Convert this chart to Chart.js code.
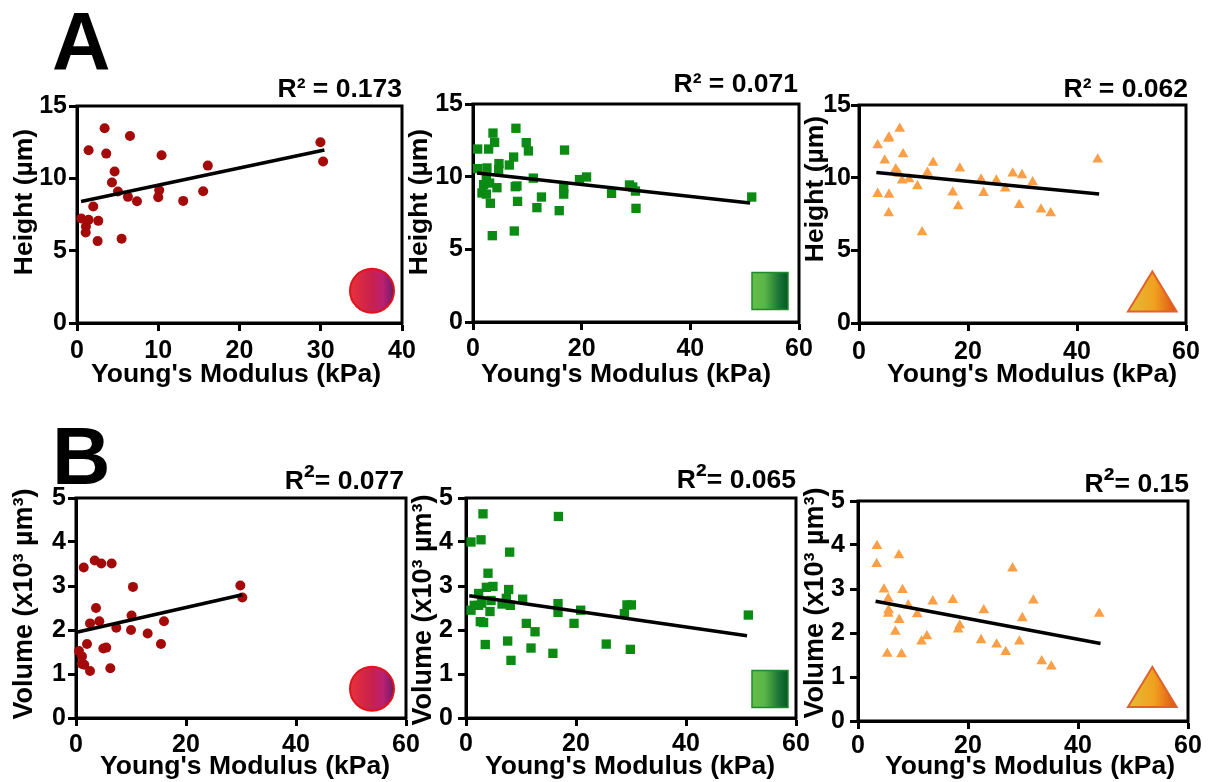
<!DOCTYPE html>
<html><head><meta charset="utf-8">
<script src="https://cdn.jsdelivr.net/npm/chart.js@4"></script>
<style>
html,body{margin:0;padding:0;background:#fff;overflow:hidden;width:1210px;height:782px}
canvas{position:absolute}
.t{position:absolute;font:bold 26.5px/1 "Liberation Sans",Arial,sans-serif;color:#000;white-space:nowrap}
.l{position:absolute;font:bold 81px/1 "Liberation Sans",Arial,sans-serif;color:#000}
.s{font-size:1.25em;line-height:0}
svg{position:absolute;left:0;top:0}
</style></head><body>
<div class="l" style="left:52px;top:1px">A</div>
<div class="l" style="left:52px;top:416px">B</div>
<svg width="1210" height="782">
<defs>
<linearGradient id="gc"><stop offset="0" stop-color="#e8313a"/><stop offset=".5" stop-color="#c8214f"/><stop offset=".75" stop-color="#bc2070"/><stop offset=".93" stop-color="#861c6e"/><stop offset="1" stop-color="#2b3a3a"/></linearGradient>
<linearGradient id="gs"><stop offset="0" stop-color="#66bd47"/><stop offset=".35" stop-color="#5ab548"/><stop offset=".75" stop-color="#1a7435"/><stop offset="1" stop-color="#07572a"/></linearGradient>
<linearGradient id="gt"><stop offset="0" stop-color="#e3bd38"/><stop offset=".55" stop-color="#f0a01f"/><stop offset="1" stop-color="#de4f14"/></linearGradient>
</defs>
<circle cx="372" cy="290.7" r="22" fill="url(#gc)" stroke="#e0141c" stroke-width="2"/>
<circle cx="372" cy="688.7" r="22" fill="url(#gc)" stroke="#e0141c" stroke-width="2"/>
<rect x="752" y="272.5" width="36" height="37" fill="url(#gs)" stroke="#1f8a2c" stroke-width="1.5"/>
<rect x="752" y="670.5" width="36" height="37" fill="url(#gs)" stroke="#1f8a2c" stroke-width="1.5"/>
<polygon points="1152.3,271.5 1128,311.5 1176.6,311.5" fill="url(#gt)" stroke="#e0622a" stroke-width="2"/>
<polygon points="1152.3,667 1128,707 1176.6,707" fill="url(#gt)" stroke="#e0622a" stroke-width="2"/>
</svg>
<script>
// Panel A: height (um) against Young's modulus (kPa)
const circleHeightX=[0.53,1.43,1.1,1.07,2.62,2.54,5.49,2.0,1.43,3.4,3.6,6.52,4.63,4.3,5.04,6.27,7.38,10.12,10.0,10.41,13.07,15.53,16.1,29.96,30.29];
const circleHeightY=[7.22,7.13,6.67,6.26,7.06,5.66,5.82,8.05,11.94,13.46,11.71,12.93,10.47,9.71,9.09,8.72,8.42,9.18,8.7,11.59,8.44,9.11,10.88,12.49,11.16];
const circleHeightFitX=[0.5,30.45], circleHeightFitY=[8.4,11.96];
const squareHeightX=[0.86,0.86,2.57,2.88,3.68,3.98,4.78,4.72,2.45,6.68,7.48,7.9,9.8,10.2,11.1,16.85,19.6,20.9,1.96,1.65,2.45,3.06,4.41,7.78,8.09,3.19,8.2,12.6,11.76,15.87,16.7,16.7,25.5,28.8,29.4,29.9,30.0,51.3,3.55,7.6];
const squareHeightY=[11.9,10.55,10.6,11.9,13.0,12.36,10.9,10.48,10.02,10.8,11.35,13.33,12.34,11.77,9.9,11.83,9.8,9.98,9.45,8.88,8.8,9.56,9.24,9.31,9.36,8.17,8.3,8.6,7.87,7.66,9.22,8.8,8.85,9.43,9.29,9.01,7.82,8.6,5.94,6.26];
const squareHeightFitX=[0.74,51], squareHeightFitY=[10.25,8.19];
const triangleHeightX=[3.43,5.5,5.4,7.48,8.09,4.72,6.74,7.3,7.9,9.19,10.72,12.56,13.6,18.5,17.2,18.2,22.86,22.4,25.2,26.84,28.2,29.9,31.86,29.4,33.4,35.17,43.8,3.43,5.5,5.45,11.58];
const triangleHeightY=[12.24,12.77,12.68,13.37,11.62,11.19,10.59,10.27,9.81,9.9,9.42,10.34,11.03,10.64,8.98,8.04,8.96,9.88,9.81,9.26,10.29,10.18,9.69,8.13,7.81,7.56,11.26,8.89,8.84,7.56,6.25];
const triangleHeightFitX=[3.19,44.06], triangleHeightFitY=[10.36,8.87];
// Panel B: volume (x10^3 um^3) against Young's modulus (kPa)
const circleVolumeX=[0.55,1.09,1.09,1.5,2.55,2.0,6.24,4.97,5.5,1.4,3.4,4.6,6.48,3.64,2.55,4.24,7.33,10.1,10.0,10.36,13.03,15.45,16.0,29.88,30.24];
const circleVolumeY=[1.52,1.4,1.23,1.21,1.07,1.68,1.13,1.58,1.6,3.42,3.58,3.51,3.51,2.5,2.15,2.2,2.05,2.33,2.0,2.98,1.92,1.68,2.2,3.01,2.74];
const circleVolumeFitX=[0.12,30.24], circleVolumeFitY=[1.95,2.8];
const squareVolumeX=[3.09,16.8,0.91,2.73,7.94,4.0,3.7,4.9,7.76,2.3,10.3,7.33,4.55,16.73,16.73,6.55,8.06,29.27,30.06,28.8,20.85,0.91,1.5,2.3,2.85,4.36,2.6,3.2,10.97,19.64,12.55,3.5,7.58,11.82,15.8,25.5,29.88,8.18,51.33];
const squareVolumeY=[4.64,4.58,4.0,4.05,3.77,3.29,2.97,2.99,2.92,2.83,2.7,2.72,2.67,2.6,2.4,2.59,2.56,2.57,2.57,2.37,2.45,2.45,2.56,2.56,2.61,2.42,2.19,2.17,2.15,2.15,1.96,1.67,1.75,1.59,1.47,1.68,1.56,1.31,2.34];
const squareVolumeFitX=[0.6,51.1], squareVolumeFitY=[2.78,1.87];
const triangleVolumeX=[3.45,3.39,7.44,28.1,4.72,8.1,5.5,5.57,5.5,9.13,10.77,13.6,17.24,22.87,31.88,29.88,43.86,7.5,6.78,18.5,18.2,12.52,11.55,22.38,25.2,26.86,29.34,5.32,7.92,33.4,35.15];
const triangleVolumeY=[3.98,3.57,3.77,3.47,2.99,2.98,2.78,2.52,2.44,2.63,2.43,2.72,2.75,2.52,2.74,2.34,2.44,2.3,2.03,2.17,2.08,1.93,1.81,1.84,1.74,1.57,1.81,1.53,1.52,1.36,1.24];
const triangleVolumeFitX=[3.2,44.1], triangleVolumeFitY=[2.72,1.76];
// Text and ticks
const heightTitle="Height (µm)", volumeTitle="Volume (x10³ µm³)", modulusTitle="Young's Modulus (kPa)";
const r2Labels=['R² = 0.173','R² = 0.071','R² = 0.062','R<span class="s">²</span>= 0.077','R<span class="s">²</span>= 0.065','R<span class="s">²</span>= 0.15'];
const markerColors={circle:'#a50a0a',rect:'#0b8a14',triangle:'#fb9f47'};

const FF='"Liberation Sans",Arial,sans-serif';
const zip=(x,y)=>x.map((v,i)=>({x:v,y:y[i]}));
const panels=[
 {box:[77,402,106,323],xMax:40,xStep:10,yMax:15,yStep:5,style:'circle',r:5,xPad:5,yPad:2,xs:circleHeightX,ys:circleHeightY,fx:circleHeightFitX,fy:circleHeightFitY,yt:heightTitle,yfs:26.5,xT:[236,375],yT:[24.5,202],r2:[402,97]},
 {box:[473,799,104,322],xMax:60,xStep:20,yMax:15,yStep:5,style:'rect',r:6.6,xPad:4.5,yPad:2,xs:squareHeightX,ys:squareHeightY,fx:squareHeightFitX,fy:squareHeightFitY,yt:heightTitle,yfs:26.5,xT:[626,375],yT:[419.5,202],r2:[798,92]},
 {box:[859,1186,105,323],xMax:60,xStep:20,yMax:15,yStep:5,style:'triangle',r:6.2,xPad:6,yPad:0,xs:triangleHeightX,ys:triangleHeightY,fx:triangleHeightFitX,fy:triangleHeightFitY,yt:heightTitle,yfs:26.5,xT:[1032,375],yT:[816,189],r2:[1188,97]},
 {box:[76,406,498,718],xMax:60,xStep:20,yMax:5,yStep:1,style:'circle',r:5,xPad:4,yPad:2,xs:circleVolumeX,ys:circleVolumeY,fx:circleVolumeFitX,fy:circleVolumeFitY,yt:volumeTitle,yfs:27,xT:[245,767],yT:[24.5,604],r2:[404,489]},
 {box:[466,796,498,718],xMax:60,xStep:20,yMax:5,yStep:1,style:'rect',r:6.6,xPad:2.7,yPad:5,xs:squareVolumeX,ys:squareVolumeY,fx:squareVolumeFitX,fy:squareVolumeFitY,yt:volumeTitle,yfs:27,xT:[630,767],yT:[424,610],r2:[796,488]},
 {box:[858,1188,501,721],xMax:60,xStep:20,yMax:5,yStep:1,style:'triangle',r:6.2,xPad:1.7,yPad:5,xs:triangleVolumeX,ys:triangleVolumeY,fx:triangleVolumeFitX,fy:triangleVolumeFitY,yt:volumeTitle,yfs:27,xT:[1030,767],yT:[816,603],r2:[1189,492]}
];
const YW=70,PT=20,PR=22,XH=60,PB=12;
const frame={id:'frame',beforeDatasetsDraw(c){const a=c.chartArea,x=c.ctx;x.save();x.strokeStyle='#000';x.lineWidth=3;x.strokeRect(a.left,a.top,a.right-a.left,a.bottom-a.top);x.restore();}};
function moveTitle(scale,dx,dy){
  const orig=scale.drawTitle;
  scale.drawTitle=function(){
    const c=this.ctx,t=this.top,b=this.bottom;
    c.save();c.translate(dx,dy);
    if(!this.isHorizontal()){this.top=t-80;this.bottom=b+80;}
    orig.call(this);
    this.top=t;this.bottom=b;c.restore();
  };
}
panels.forEach((p,i)=>{
  const [L,R,T,B]=p.box;
  const cv=document.createElement('canvas');
  const cl=L-YW,ct=T-PT,w=YW+(R-L)+PR,h=PT+(B-T)+XH+PB;
  cv.style.left=cl+'px';cv.style.top=ct+'px';cv.style.width=w+'px';cv.style.height=h+'px';cv.width=w;cv.height=h;
  document.body.appendChild(cv);
  const tickFont={family:FF,size:25,weight:'bold',lineHeight:1.2};
  const place={id:'place',afterLayout(c){
    if(c.$moved)return;c.$moved=true;
    const lhX=26.5*1.2,lhY=p.yfs*1.2;
    const xs=c.scales.x,ys=c.scales.y;
    moveTitle(xs,p.xT[0]-(xs.left+xs.right)/2-cl,p.xT[1]-(xs.bottom-lhX/2)-ct);
    moveTitle(ys,p.yT[0]-(ys.left+lhY/2)-cl,p.yT[1]-(ys.top+ys.bottom)/2-ct);
  }};
  new Chart(cv,{
    type:'scatter',
    data:{datasets:[
      {type:'line',data:zip(p.fx,p.fy),borderColor:'#000',borderWidth:3.5,pointRadius:0,fill:false,clip:false},
      {data:zip(p.xs,p.ys),pointStyle:p.style,pointRadius:p.r,pointHoverRadius:p.r,backgroundColor:markerColors[p.style],borderColor:markerColors[p.style],borderWidth:0,clip:false}
    ]},
    options:{
      responsive:false,animation:false,devicePixelRatio:1,
      layout:{padding:{top:PT,right:PR,left:0,bottom:PB}},
      plugins:{legend:{display:false},tooltip:{enabled:false}},
      scales:{
        x:{type:'linear',min:0,max:p.xMax,
          afterFit(s){s.height=XH;},
          ticks:{stepSize:p.xStep,font:tickFont,color:'#000',padding:p.xPad,maxRotation:0,autoSkip:false,includeBounds:true},
          grid:{display:true,drawOnChartArea:false,drawTicks:true,tickLength:8,tickWidth:3,tickColor:'#000'},
          border:{display:true,color:'#000',width:3},
          title:{display:true,text:modulusTitle,color:'#000',font:{family:FF,size:26.5,weight:'bold',lineHeight:1.2},padding:0}},
        y:{type:'linear',min:0,max:p.yMax,
          afterFit(s){s.width=YW;},
          ticks:{stepSize:p.yStep,font:tickFont,color:'#000',padding:p.yPad,autoSkip:false},
          grid:{display:true,drawOnChartArea:false,drawTicks:true,tickLength:8,tickWidth:3,tickColor:'#000'},
          border:{display:true,color:'#000',width:3},
          title:{display:true,text:p.yt,color:'#000',font:{family:FF,size:p.yfs,weight:'bold',lineHeight:1.2},padding:0}}
      }
    },
    plugins:[frame,place]
  });
  const d=document.createElement('div');d.className='t';d.innerHTML=r2Labels[i];
  d.style.right=(1210-p.r2[0])+'px';d.style.top=(p.r2[1]-22.4)+'px';
  document.body.appendChild(d);
});
</script>
</body></html>
